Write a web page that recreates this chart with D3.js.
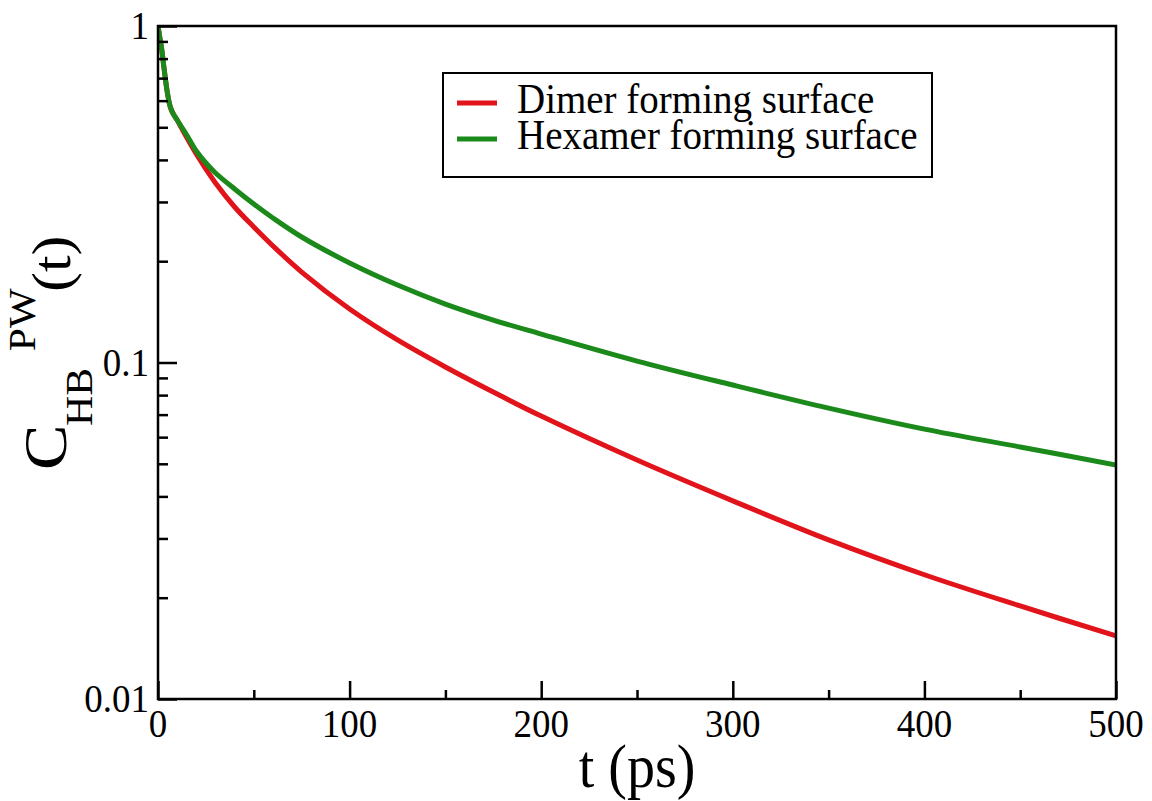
<!DOCTYPE html>
<html>
<head>
<meta charset="utf-8">
<script src="https://cdn.jsdelivr.net/npm/d3@7"></script>
<style>
  html, body { margin: 0; padding: 0; background: #fff; }
  svg { display: block; }
  text { font-family: "Liberation Serif", "Times New Roman", serif; fill: #000; }
</style>
</head>
<body>
<svg id="chart" width="1152" height="801"></svg>
<script>
// Time axis (ps)
const times = [0, 1, 2, 3, 4, 5, 6, 7, 8, 10, 12, 15, 20, 25, 30, 40, 50, 60, 75, 100, 125, 150, 175, 200, 250, 300, 350, 400, 450, 500];
// Hydrogen-bond time correlation, dimer forming surface
const dimerValues = [1.0, 0.921, 0.8485, 0.7606, 0.6865, 0.628, 0.5863, 0.5627, 0.5475, 0.5255, 0.501, 0.4663, 0.4165, 0.3758, 0.3415, 0.2898, 0.2527, 0.222, 0.1857, 0.1442, 0.1167, 0.097, 0.0817, 0.0693, 0.0513, 0.0388, 0.0297, 0.0234, 0.0189, 0.0154];
// Hydrogen-bond time correlation, hexamer forming surface
const hexamerValues = [1.0, 0.921, 0.8485, 0.7606, 0.6865, 0.628, 0.5863, 0.5627, 0.5475, 0.5255, 0.5044, 0.4745, 0.425, 0.3916, 0.3658, 0.3279, 0.2958, 0.2688, 0.236, 0.1976, 0.1699, 0.1492, 0.1337, 0.1215, 0.101, 0.0857, 0.0732, 0.0634, 0.0561, 0.0496];

const seriesNames = ["Dimer forming surface", "Hexamer forming surface"];
const seriesColors = ["#e0141a", "#1b8a1b"];
const xTickValues = [0, 100, 200, 300, 400, 500];
const xMinorTicks = [50, 150, 250, 350, 450];
const yTickValues = [1, 0.1, 0.01];
const yTickLabels = ["1", "0.1", "0.01"];

const svg = d3.select("#chart");
const plot = { left: 158, right: 1116, top: 26, bottom: 699 };
const vStretch = 1.1;

const x = d3.scaleLinear().domain([0, 500]).range([plot.left, plot.right]);
const y = d3.scaleLog().domain([0.01, 1]).range([plot.bottom, plot.top]);

// minor ticks on the log axis: 2..9 of each decade
const yMinorTicks = [];
[0.01, 0.1].forEach(d => { for (let k = 2; k <= 9; k++) yMinorTicks.push(d * k); });

const series = [dimerValues, hexamerValues].map((vals, i) => ({
  name: seriesNames[i],
  color: seriesColors[i],
  points: times.map((t, j) => ({ t, v: vals[j] }))
}));

// curves
const line = d3.line()
  .x(d => x(d.t))
  .y(d => y(d.v))
  .curve(d3.curveCatmullRom.alpha(0.5));

svg.append("clipPath").attr("id", "plotclip")
  .append("rect")
  .attr("x", plot.left).attr("y", plot.top - 3)
  .attr("width", plot.right - plot.left).attr("height", plot.bottom - plot.top + 3);

svg.append("g").attr("clip-path", "url(#plotclip)")
  .selectAll("path.series")
  .data(series)
  .join("path")
  .attr("class", "series")
  .attr("fill", "none")
  .attr("stroke", d => d.color)
  .attr("stroke-width", 5)
  .attr("stroke-linejoin", "round")
  .attr("d", d => line(d.points));

// frame
svg.append("rect")
  .attr("x", plot.left).attr("y", plot.top)
  .attr("width", plot.right - plot.left).attr("height", plot.bottom - plot.top)
  .attr("fill", "none").attr("stroke", "#000").attr("stroke-width", 2.5);

// inward ticks on the bottom axis
const xAxisMajor = d3.axisBottom(x).tickValues(xTickValues).tickSize(-18).tickFormat("");
const xAxisMinor = d3.axisBottom(x).tickValues(xMinorTicks).tickSize(-9).tickFormat("");
[xAxisMajor, xAxisMinor].forEach(ax => {
  const g = svg.append("g").attr("transform", `translate(0,${plot.bottom})`).call(ax);
  g.select(".domain").remove();
  g.selectAll("line").attr("stroke", "#000").attr("stroke-width", 2.5);
});

// inward ticks on the left axis
const yAxisMajor = d3.axisLeft(y).tickValues(yTickValues).tickSize(-19).tickFormat("");
const yAxisMinor = d3.axisLeft(y).tickValues(yMinorTicks).tickSize(-10).tickFormat("");
[yAxisMajor, yAxisMinor].forEach(ax => {
  const g = svg.append("g").attr("transform", `translate(${plot.left},0)`).call(ax);
  g.select(".domain").remove();
  g.selectAll("line").attr("stroke", "#000").attr("stroke-width", 2.5);
});

// tick labels
svg.append("g").selectAll("text")
  .data(xTickValues)
  .join("text")
  .attr("text-anchor", "middle")
  .attr("font-size", 37)
  .attr("transform", d => `translate(${x(d)},${plot.bottom + 38}) scale(1,${vStretch})`)
  .text(d => d);

svg.append("g").selectAll("text")
  .data(yTickValues)
  .join("text")
  .attr("text-anchor", "end")
  .attr("font-size", 37)
  .attr("transform", d => `translate(${plot.left - 9},${y(d) + 13}) scale(1,${vStretch})`)
  .text((d, i) => yTickLabels[i]);

// x axis title
svg.append("text")
  .attr("text-anchor", "middle")
  .attr("font-size", 56)
  .attr("transform", `translate(${(plot.left + plot.right) / 2},787) scale(1,${vStretch})`)
  .text("t (ps)");

// y axis title: C_HB^PW(t)
const yTitle = svg.append("text")
  .attr("transform", `translate(66,470) scale(1,${vStretch}) rotate(-90)`);
yTitle.append("tspan").attr("x", 0).attr("y", 0).attr("font-size", 62).text("C");
yTitle.append("tspan").attr("x", 40).attr("y", 26).attr("font-size", 38).text("HB");
yTitle.append("tspan").attr("x", 108).attr("y", -31).attr("font-size", 38).text("PW");
yTitle.append("tspan").attr("x", 162).attr("y", 4).attr("font-size", 54).text("(t)");

// legend
const legend = svg.append("g");
legend.append("rect")
  .attr("x", 443).attr("y", 73).attr("width", 489).attr("height", 104)
  .attr("fill", "#fff").attr("stroke", "#000").attr("stroke-width", 2);
const rowY = [103, 139];
const rows = legend.selectAll("g.row")
  .data(series)
  .join("g")
  .attr("class", "row");
rows.append("line")
  .attr("x1", 457).attr("x2", 497)
  .attr("y1", (d, i) => rowY[i]).attr("y2", (d, i) => rowY[i])
  .attr("stroke", d => d.color).attr("stroke-width", 5);
rows.append("text")
  .attr("font-size", 39)
  .attr("transform", (d, i) => `translate(517,${rowY[i] + 10}) scale(1,${vStretch})`)
  .text(d => d.name);
</script>
</body>
</html>
